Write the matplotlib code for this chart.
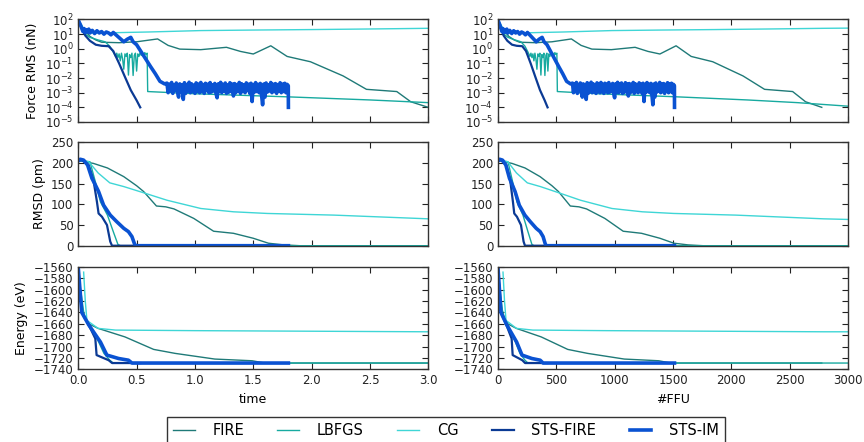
import numpy as np
import matplotlib
matplotlib.use('Agg')
import matplotlib.pyplot as plt
from matplotlib.ticker import LogLocator, NullLocator, MultipleLocator

methods = ['FIRE', 'LBFGS', 'CG', 'STS-FIRE', 'STS-IM']
colors = ['#1f7a78', '#17aaa0', '#3fd6d6', '#0b3a94', '#0a52d2']
widths = [1.0, 1.0, 1.0, 1.6, 2.6]
# force-field evaluations per unit of time, read from the two columns
ffu_per_time = [925, 855, 930, 800, 840]

# ---- Force RMS (nN) ----
fire_force_t = [0.0, 0.05, 0.10, 0.15, 0.20, 0.35, 0.50, 0.68, 0.77, 0.87, 1.05, 1.27, 1.39, 1.50,
                1.65, 1.79, 1.99, 2.27, 2.47, 2.73, 2.85, 3.0]
fire_force = [80, 20, 7, 4, 2.8, 2.6, 3.0, 4.7, 1.7, 0.95, 0.87, 1.26, 0.66, 0.44,
              1.6, 0.3, 0.13, 0.014, 0.0017, 0.0012, 0.00024, 0.0001]

lbfgs_force_t = [0.0, 0.03, 0.06, 0.10, 0.17, 0.23, 0.27, 0.30, 0.32,
                 0.33, 0.34, 0.35, 0.36, 0.37, 0.38, 0.39, 0.40, 0.41, 0.42, 0.43, 0.44, 0.45, 0.46,
                 0.47, 0.48, 0.49, 0.50, 0.51, 0.52, 0.53, 0.54, 0.55, 0.56, 0.57, 0.58, 0.59,
                 0.595, 1.0, 1.8, 2.5, 3.0, 3.51]
lbfgs_force = [100, 30, 10, 6, 4, 3, 1.5, 0.6, 0.3,
               0.5, 0.25, 0.45, 0.15, 0.5, 0.2, 0.04, 0.45, 0.3, 0.5, 0.016, 0.4, 0.25, 0.5,
               0.015, 0.35, 0.5, 0.03, 0.45, 0.3, 0.55, 0.35, 0.5, 0.3, 0.55, 0.4, 0.5,
               0.0012, 0.00085, 0.00052, 0.00032, 0.00021, 0.00012]

cg_force_t = [0.0, 0.03, 0.06, 0.10, 0.30, 0.60, 1.05, 1.50, 2.0, 2.5, 3.0, 3.3]
cg_force = [100, 40, 15, 12, 12.5, 14, 17.5, 19, 20.5, 22.5, 25, 26]

sts_fire_force_t = [0.0, 0.03, 0.06, 0.10, 0.15, 0.20, 0.26, 0.30, 0.35, 0.40, 0.45, 0.50, 0.531]
sts_fire_force = [90, 25, 8, 3.5, 1.9, 1.6, 1.5, 0.7, 0.1, 0.012, 0.0015, 0.0003, 0.0001]

sts_im_force_t = [0.0, 0.02, 0.03, 0.04, 0.05, 0.06, 0.07, 0.08, 0.09, 0.10, 0.12, 0.14, 0.16,
                  0.18, 0.20, 0.22, 0.24, 0.26, 0.28, 0.30, 0.33, 0.36, 0.39, 0.42, 0.45, 0.47,
                  0.50, 0.53, 0.57, 0.62, 0.66, 0.70, 0.74]
sts_im_force = [90, 40, 25, 15, 24, 13, 20, 14, 22, 12, 18, 11, 17,
                12, 15, 10, 14, 12, 9, 13, 8, 5, 3, 4.5, 6, 3,
                1.9, 0.8, 0.25, 0.06, 0.02, 0.006, 0.004]
# noisy plateau, sampled every 0.01 from t=0.76 to t=1.80 (units of 1e-3 nN)
sts_im_plateau = [4.5, 1.0, 3.8, 1.3, 5.0, 0.9, 3.2, 1.5, 4.6, 1.1, 0.5, 4.0, 1.2, 3.5, 0.35,
                  4.8, 0.9, 3.6, 1.4, 5.2, 1.0, 4.1, 1.2, 3.3, 0.9, 4.7, 1.3, 3.9, 1.0, 5.0,
                  1.2, 3.6, 0.9, 4.4, 1.4, 3.8, 1.0, 4.9, 1.1, 3.5, 1.3, 4.3, 0.9, 0.45, 4.0,
                  1.2, 5.1, 1.0, 3.7, 1.3, 4.6, 0.9, 3.4, 1.1, 4.8, 1.2, 3.9, 0.6, 4.2, 1.0,
                  3.6, 1.3, 5.0, 0.9, 4.1, 1.2, 3.5, 1.0, 4.7, 1.4, 3.8, 0.9, 4.4, 0.25, 3.6,
                  1.1, 4.9, 1.2, 3.7, 1.0, 4.3, 0.8, 0.15, 3.9, 0.5, 4.6, 1.1, 3.5, 1.3, 5.0,
                  1.0, 3.8, 1.2, 4.2, 0.9, 3.6, 1.3, 4.8, 1.0, 3.9, 1.2, 4.4, 1.0, 3.7, 3.0]
sts_im_end_t = 1.801
sts_im_end = 0.0001

# ---- RMSD (pm) ----
fire_rmsd_t = [0.0, 0.02, 0.13, 0.25, 0.39, 0.50, 0.56, 0.67, 0.75, 0.82, 0.99, 1.16, 1.33,
               1.50, 1.63, 1.76, 1.9, 3.0]
fire_rmsd = [205, 205, 199, 188, 167, 145, 131, 96, 94, 89, 66, 35, 30, 18, 6, 2, 0, 0]

lbfgs_rmsd_t = [0.0, 0.05, 0.10, 0.146, 0.19, 0.25, 0.30, 0.34, 0.36, 3.51]
lbfgs_rmsd = [205, 205, 203, 155, 106, 74, 34, 3, 0, 0]

cg_rmsd_t = [0.0, 0.03, 0.09, 0.17, 0.27, 0.39, 0.56, 0.76, 1.05, 1.33, 1.62, 2.19, 3.0, 3.3]
cg_rmsd = [205, 205, 203, 176, 152, 143, 128, 110, 90, 82, 78, 74, 65, 63]

sts_fire_rmsd_t = [0.0, 0.03, 0.089, 0.13, 0.16, 0.174, 0.203, 0.246, 0.274, 0.289, 0.531]
sts_fire_rmsd = [205, 207, 195, 159, 106, 78, 70, 50, 10, 0, 0]

sts_im_rmsd_t = [0.0, 0.017, 0.046, 0.08, 0.117, 0.146, 0.174, 0.217, 0.274, 0.33, 0.39, 0.43,
                 0.46, 0.48, 0.49, 1.801]
sts_im_rmsd = [205, 209, 207, 195, 163, 147, 131, 98, 74, 58, 42, 34, 22, 6, 0, 0]

# ---- Energy (eV) ----
fire_energy_t = [0.0, 0.03, 0.06, 0.09, 0.17, 0.40, 0.646, 0.83, 1.17, 1.49, 1.60, 3.0]
fire_energy = [-1562, -1630, -1650, -1660, -1668, -1683, -1705, -1712, -1722, -1725, -1729, -1729]

lbfgs_energy_t = [0.0, 0.02, 0.05, 0.10, 0.17, 0.22, 0.27, 0.30, 3.51]
lbfgs_energy = [-1562, -1600, -1645, -1664, -1690, -1712, -1724, -1729, -1729]

cg_energy_t = [0.046, 0.06, 0.074, 0.17, 0.32, 1.0, 2.0, 3.0, 3.3]
cg_energy = [-1569, -1620, -1654, -1668, -1671, -1672, -1673, -1674, -1674]

sts_fire_energy_t = [0.0, 0.03, 0.09, 0.146, 0.157, 0.26, 0.29, 0.531]
sts_fire_energy = [-1562, -1640, -1662, -1686, -1715, -1724, -1729, -1729]

sts_im_energy_t = [0.0, 0.03, 0.09, 0.19, 0.245, 0.345, 0.43, 0.46, 1.801]
sts_im_energy = [-1562, -1640, -1662, -1692, -1715, -1721, -1724, -1729, -1729]

# assemble STS-IM force curve
plateau_t = np.round(np.arange(0.76, 1.805, 0.01), 2)
sts_im_force_full_t = sts_im_force_t + list(plateau_t) + [sts_im_end_t]
sts_im_force_full = sts_im_force + [v * 1e-3 for v in sts_im_plateau] + [sts_im_end]

force_data = [(fire_force_t, fire_force), (lbfgs_force_t, lbfgs_force), (cg_force_t, cg_force),
              (sts_fire_force_t, sts_fire_force), (sts_im_force_full_t, sts_im_force_full)]
rmsd_data = [(fire_rmsd_t, fire_rmsd), (lbfgs_rmsd_t, lbfgs_rmsd), (cg_rmsd_t, cg_rmsd),
             (sts_fire_rmsd_t, sts_fire_rmsd), (sts_im_rmsd_t, sts_im_rmsd)]
energy_data = [(fire_energy_t, fire_energy), (lbfgs_energy_t, lbfgs_energy), (cg_energy_t, cg_energy),
               (sts_fire_energy_t, sts_fire_energy), (sts_im_energy_t, sts_im_energy)]

plt.rcParams['font.family'] = 'DejaVu Sans'
fig = plt.figure(figsize=(8.64, 4.42), dpi=100)

col_x = [0.0906, 0.5764]
col_w = 0.4051
rows = [(0.7240, 0.2319), (0.4441, 0.2339), (0.1645, 0.2314)]
ylabels = ['Force RMS (nN)', 'RMSD (pm)', 'Energy (eV)']
xlabels = ['time', '#FFU']
xmax = [3.0, 3000]
panels = [force_data, rmsd_data, energy_data]

handles = []
for c in range(2):
    for r in range(3):
        ax = fig.add_axes([col_x[c], rows[r][0], col_w, rows[r][1]])
        for i, (t, v) in enumerate(panels[r]):
            x = np.array(t) * (ffu_per_time[i] if c == 1 else 1.0)
            ln, = ax.plot(x, v, color=colors[i], lw=widths[i], label=methods[i])
            if c == 0 and r == 0:
                handles.append(ln)
        ax.set_xlim(0, xmax[c])
        ax.xaxis.set_major_locator(MultipleLocator(xmax[c] / 6))
        if r == 0:
            ax.set_yscale('log')
            ax.set_ylim(1e-5, 1e2)
            ax.yaxis.set_major_locator(LogLocator(base=10, numticks=10))
            ax.yaxis.set_minor_locator(NullLocator())
        elif r == 1:
            ax.set_ylim(0, 250)
            ax.yaxis.set_major_locator(MultipleLocator(50))
        else:
            ax.set_ylim(-1740, -1560)
            ax.yaxis.set_major_locator(MultipleLocator(20))
        ax.tick_params(direction='in', top=True, right=True, length=4, width=0.8,
                       labelsize=8.5, colors='#222222')
        for sp in ax.spines.values():
            sp.set_color('#333333')
            sp.set_linewidth(1.0)
        if r < 2:
            ax.tick_params(labelbottom=False)
        else:
            ax.set_xlabel(xlabels[c], fontsize=9)
        if c == 0:
            ax.set_ylabel(ylabels[r], fontsize=9)

fig.legend(handles, methods, loc='upper center', bbox_to_anchor=(0.516, 0.0566), ncol=5,
           fontsize=10.5, frameon=True, fancybox=False, edgecolor='black',
           handlelength=1.5, handletextpad=1.2, columnspacing=2.3, borderaxespad=0)

fig.savefig('out.png', dpi=100)
